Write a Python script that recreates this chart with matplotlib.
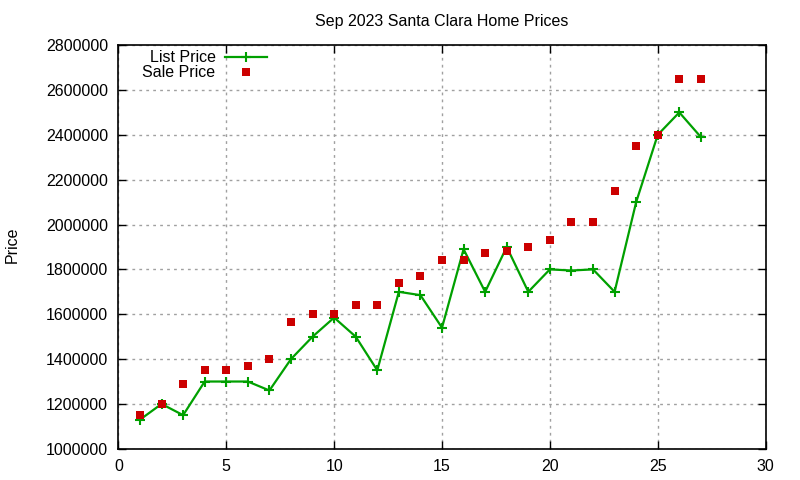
import matplotlib
matplotlib.use("Agg")
import matplotlib.pyplot as plt
from matplotlib.ticker import MultipleLocator

plt.rcParams['font.family'] = ['Liberation Sans', 'DejaVu Sans']

# listing index 1..27
homes = list(range(1, 28))
list_price = [1130000, 1200000, 1150000, 1300000, 1300000, 1300000, 1260000, 1400000, 1500000,
              1585000, 1500000, 1350000, 1700000, 1685000, 1540000, 1890000, 1700000, 1900000,
              1700000, 1800000, 1795000, 1800000, 1700000, 2100000, 2400000, 2500000, 2390000]
sale_price = [1150000, 1200000, 1290000, 1350000, 1350000, 1370000, 1400000, 1565000, 1600000,
              1600000, 1640000, 1640000, 1740000, 1770000, 1840000, 1840000, 1875000, 1880000,
              1900000, 1930000, 2010000, 2010000, 2150000, 2350000, 2400000, 2650000, 2650000]

fig = plt.figure(figsize=(8, 4.8), dpi=100)
ax = fig.add_axes([0.148, 0.065, 0.809, 0.841])

ax.plot(homes, list_price, color='#00a000', linewidth=1.6, marker='+', markersize=7,
        markeredgewidth=1.5, label='List Price', zorder=3)
ax.plot(homes, sale_price, linestyle='none', marker='s', markersize=6, color='#cc0000',
        markeredgewidth=0, label='Sale Price', zorder=4)

ax.set_xlim(0, 30)
ax.set_ylim(1000000, 2800000)
ax.xaxis.set_major_locator(MultipleLocator(5))
ax.yaxis.set_major_locator(MultipleLocator(200000))
ax.ticklabel_format(style='plain', axis='y', useOffset=False)

ax.grid(True, color='#a0a0a0', linestyle=(0, (2, 3)), linewidth=1)
ax.tick_params(direction='in', length=6, width=1, top=True, right=True,
               labelsize=11.5, pad=7.5)
for s in ax.spines.values():
    s.set_linewidth(1.2)

ax.set_title('Sep 2023 Santa Clara Home Prices', fontsize=11.5, pad=14)
fig.text(0.006, 0.49, 'Price', rotation=90, fontsize=11.5, ha='left', va='center')

leg = ax.legend(loc='upper right', bbox_to_anchor=(0.234, 0.995), frameon=False, fontsize=11.5,
                markerfirst=False, handlelength=2.6, handletextpad=0.6, labelspacing=0.0,
                borderaxespad=0.0, borderpad=0.2)
for t in leg.get_texts():
    t.set_ha('right')
leg._legend_box.align = 'right'

fig.savefig('out.png', dpi=100)
